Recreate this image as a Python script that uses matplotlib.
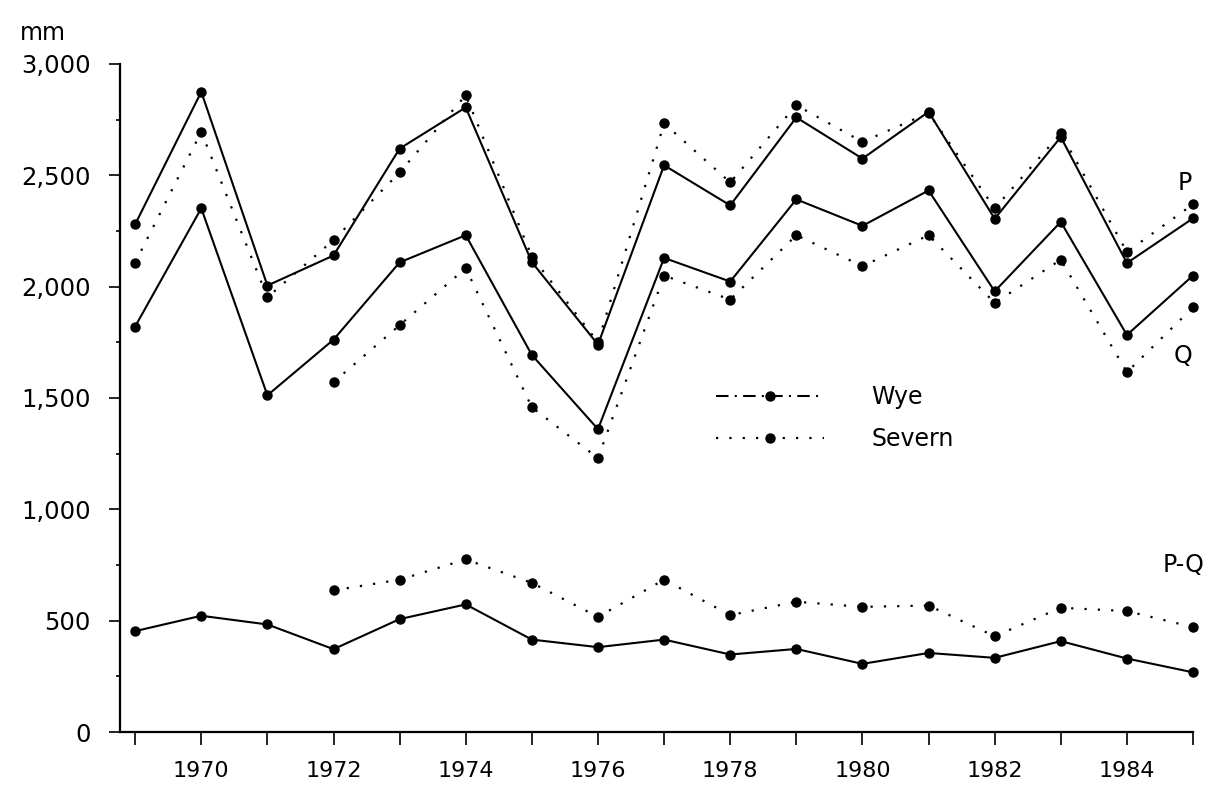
import matplotlib
matplotlib.use("Agg")
from matplotlib import pyplot as plt
from matplotlib.lines import Line2D
from matplotlib.ticker import MultipleLocator, FuncFormatter

plt.rcParams['font.family'] = ['DejaVu Sans']

years = list(range(1969, 1986))
severn_years = list(range(1972, 1986))

# precipitacion (P), caudal (Q) y perdidas (P-Q), en mm
wye_p = [2280, 2875, 2005, 2140, 2620, 2805, 2110, 1740, 2545, 2365,
         2760, 2575, 2785, 2305, 2672, 2106, 2307]
severn_p = [2108, 2695, 1952, 2209, 2513, 2860, 2135, 1750, 2733, 2468,
            2815, 2650, 2780, 2352, 2688, 2156, 2370]
wye_q = [1821, 2352, 1512, 1762, 2109, 2231, 1693, 1360, 2129, 2023,
         2392, 2273, 2432, 1979, 2291, 1783, 2050]
severn_q = [1571, 1827, 2083, 1458, 1230, 2050, 1942, 2231, 2092, 2231,
            1927, 2121, 1616, 1907]
wye_pq = [453, 522, 483, 372, 507, 573, 415, 381, 415, 348,
          373, 306, 355, 333, 408, 330, 268]
severn_pq = [636, 684, 775, 670, 517, 684, 525, 585, 562, 568,
             430, 558, 543, 471]

x_labels = [1970, 1972, 1974, 1976, 1978, 1980, 1982, 1984]

DOTTED = (0, (1, 5))


def plot_wye(ax, y):
    ax.plot(years, y, color='black', lw=1.5, marker='o', ms=6.5,
            clip_on=False, zorder=3)


def plot_severn(ax, x, y):
    ax.plot(x, y, color='black', lw=1.6, ls=DOTTED, marker='o', ms=6.5,
            clip_on=False, zorder=3)


fig = plt.figure(figsize=(12.24, 7.86), dpi=100)
ax = fig.add_axes([0.098, 0.0687, 0.8767, 0.8499])

plot_wye(ax, wye_p)
plot_severn(ax, years, severn_p)
plot_wye(ax, wye_q)
plot_severn(ax, severn_years, severn_q)
plot_wye(ax, wye_pq)
plot_severn(ax, severn_years, severn_pq)

ax.set_xlim(1968.77, 1985)
ax.set_ylim(0, 3000)

ax.spines['top'].set_visible(False)
ax.spines['right'].set_visible(False)
ax.spines['left'].set_linewidth(1.6)
ax.spines['bottom'].set_linewidth(1.6)

ax.set_xticks(years, minor=True)
ax.set_xticks(x_labels)
ax.set_xticklabels([str(v) for v in x_labels])
ax.tick_params(axis='x', which='both', direction='out', length=9, width=1.2,
               labelsize=16, pad=12)

ax.yaxis.set_major_locator(MultipleLocator(500))
ax.yaxis.set_minor_locator(MultipleLocator(250))
ax.yaxis.set_major_formatter(FuncFormatter(lambda v, p: f'{int(v):,}'))
ax.tick_params(axis='y', which='major', direction='out', length=8, width=1.2,
               labelsize=17.5, pad=13)
ax.tick_params(axis='y', which='minor', direction='out', length=3, width=1.2)

fig.text(0.035, 0.958, 'mm', fontsize=17, ha='center', va='center')

ax.text(1984.88, 2465, 'P', fontsize=17, ha='center', va='center')
ax.text(1984.85, 1690, 'Q', fontsize=17, ha='center', va='center')
ax.text(1984.85, 750, 'P-Q', fontsize=17, ha='center', va='center')

handles = [
    Line2D([], [], color='black', lw=1.5, ls=(0, (6, 3, 1, 3)),
           marker='o', ms=6.5),
    Line2D([], [], color='black', lw=1.6, ls=DOTTED, marker='o', ms=6.5),
]
ax.legend(handles, ['Wye', 'Severn'], loc='center left',
          bbox_to_anchor=(0.555, 0.47), frameon=False, fontsize=17,
          handlelength=4.6, handletextpad=2.0, labelspacing=0.75,
          borderpad=0, borderaxespad=0)

fig.savefig('out.png', dpi=100, facecolor='white')
